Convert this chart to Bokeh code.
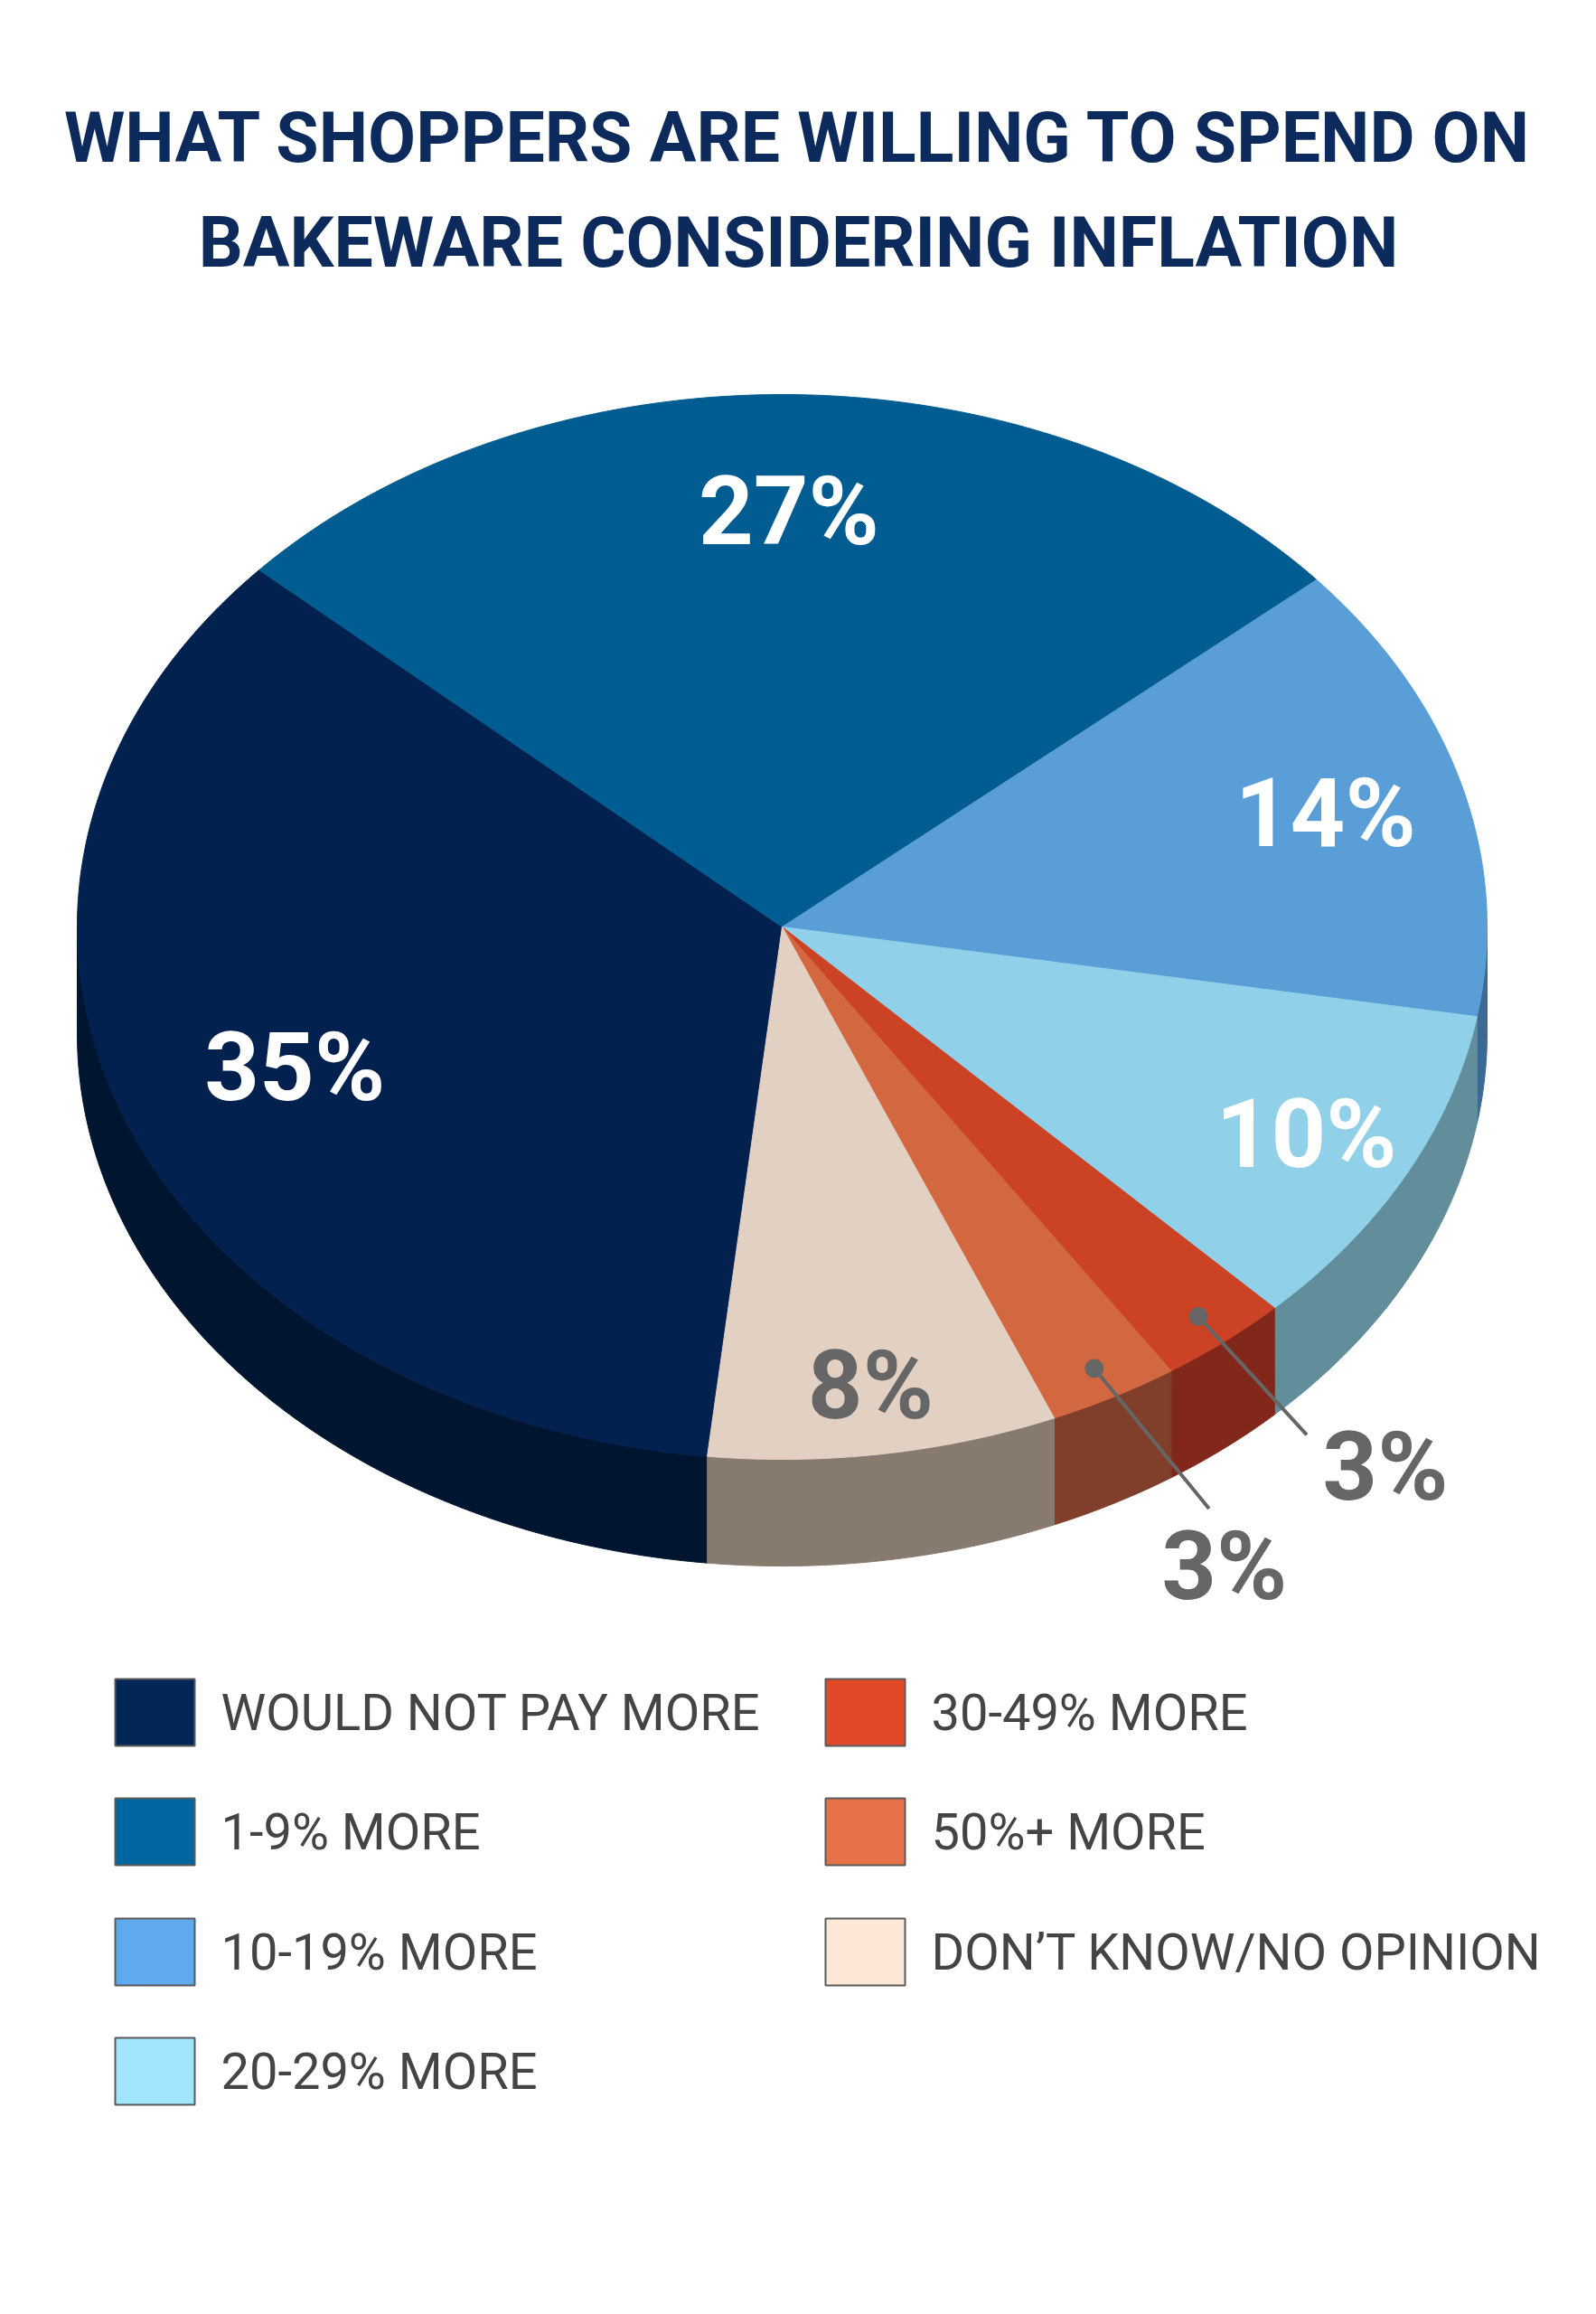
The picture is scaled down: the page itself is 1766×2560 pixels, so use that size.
import numpy as np
from bokeh.plotting import figure
from bokeh.models import Range1d
from bokeh.core.properties import value
from bokeh.embed import file_html
from bokeh.resources import INLINE

# ---- data -----------------------------------------------------------------
categories = [
    "WOULD NOT PAY MORE",
    "1-9% MORE",
    "10-19% MORE",
    "20-29% MORE",
    "30-49% MORE",
    "50%+ MORE",
    "DON’T KNOW/NO OPINION",
]
shares = [35, 27, 14, 10, 3, 3, 8]

top_colors = ["#03214f", "#015d91", "#5a9ed8", "#90d0e8", "#cc4224", "#d36740", "#e2d0c2"]
side_colors = ["#00152f", "#013f63", "#3c6a96", "#628d9a", "#82281a", "#803f2a", "#877a6f"]
legend_colors = ["#022656", "#0066a0", "#5fa9ee", "#a1e5fd", "#e04a28", "#e6724a", "#fde8d8"]
label_colors = ["white", "white", "white", "white", "#666666", "#666666", "#666666"]

title_lines = ["WHAT SHOPPERS ARE WILLING TO SPEND ON", "BAKEWARE CONSIDERING INFLATION"]

# ---- layout ---------------------------------------------------------------
W, H = 1766, 2560
cx, cy = 865, 1025          # pie centre (screen px, y down)
rx, ry = 780, 589           # ellipse radii of the tilted top face
depth = 118                 # thickness of the pie side
start_deg = 186.1           # clockwise from 12 o'clock, first slice start
label_r = [0.74, 0.78, 0.80, 0.84, 0.94, 0.94, 0.87]
# callouts: leader (dx, dy) from dot, then label offset from leader end
callouts = {4: (120, 131, 87, 36), 5: (127, 155, 17, 64)}

FONT = value("Roboto")


def ex(theta):
    return cx + rx * np.sin(np.radians(theta))


def ey(theta):
    return cy - ry * np.cos(np.radians(theta))


p = figure(width=W, height=H, output_backend="svg", toolbar_location=None,
           x_range=Range1d(0, W), y_range=Range1d(H, 0),
           x_axis_type=None, y_axis_type=None, min_border=0)
p.grid.visible = False
p.outline_line_color = None
p.background_fill_color = "white"
p.border_fill_color = "white"

edges = start_deg + np.concatenate([[0], np.cumsum(shares)]) * 3.6

# ---- side faces (front half only) -----------------------------------------
side_xs, side_ys, side_c = [], [], []
for i in range(len(shares)):
    a0, a1 = edges[i], edges[i + 1]
    for lo, hi in [(90, 270), (450, 630)]:
        s0, s1 = max(a0, lo), min(a1, hi)
        if s1 <= s0:
            continue
        th = np.linspace(s0, s1, max(4, int((s1 - s0) * 3)))
        xs = np.concatenate([ex(th), ex(th[::-1])])
        ys = np.concatenate([ey(th), ey(th[::-1]) + depth])
        side_xs.append(list(xs))
        side_ys.append(list(ys))
        side_c.append(side_colors[i])
p.patches(side_xs, side_ys, fill_color=side_c, line_color=side_c, line_width=1)

# ---- top faces --------------------------------------------------------------
top_xs, top_ys = [], []
for i in range(len(shares)):
    th = np.linspace(edges[i], edges[i + 1], max(4, int(shares[i] * 12)))
    top_xs.append([cx] + list(ex(th)))
    top_ys.append([cy] + list(ey(th)))
p.patches(top_xs, top_ys, fill_color=top_colors, line_color=top_colors, line_width=1)

# ---- value labels -------------------------------------------------------------
mids = (edges[:-1] + edges[1:]) / 2
for i, v in enumerate(shares):
    lx = cx + label_r[i] * rx * np.sin(np.radians(mids[i]))
    ly = cy - label_r[i] * ry * np.cos(np.radians(mids[i]))
    if i in callouts:
        dx, dy, tx, ty = callouts[i]
        p.line([lx, lx + dx], [ly, ly + dy], line_color="#666666", line_width=4)
        p.scatter([lx], [ly], size=20, color="#666666")
        lx, ly = lx + dx + tx, ly + dy + ty
    p.text([lx], [ly], text=[f"{v}%"], text_font=FONT, text_font_style="bold",
           text_font_size="106px", text_color=label_colors[i],
           text_align="center", text_baseline="middle")

# ---- title ------------------------------------------------------------------
for j, line in enumerate(title_lines):
    p.text([W / 2], [152 + j * 116], text=[line], text_font=FONT,
           text_font_style="bold", text_font_size="77px", text_color="#0c2a5c",
           text_align="center", text_baseline="middle")

# ---- legend -----------------------------------------------------------------
col_x = [127, 913]
row_y = [1894, 2026, 2159, 2291]
for i, name in enumerate(categories):
    col, row = (0, i) if i < 4 else (1, i - 4)
    x0, y0 = col_x[col], row_y[row]
    p.rect([x0 + 44], [y0], width=88, height=74, fill_color=legend_colors[i],
           line_color="#5a5a5a", line_width=2)
    p.text([x0 + 117], [y0], text=[name], text_font=FONT,
           text_font_size="56px", text_color="#444444",
           text_align="left", text_baseline="middle")

open("out.html", "w").write(file_html(p, INLINE))
